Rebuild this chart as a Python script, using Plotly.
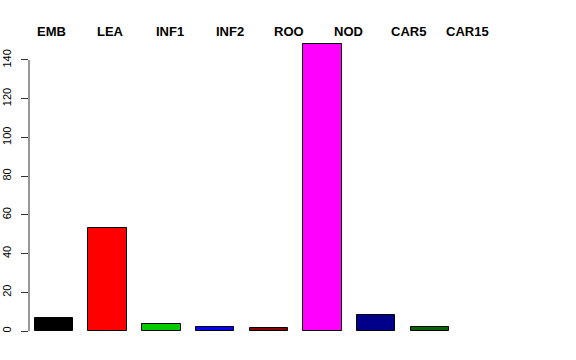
import plotly.graph_objects as go

categories = ["EMB", "LEA", "INF1", "INF2", "ROO", "NOD", "CAR5", "CAR15"]
values = [6.7, 53.2, 3.4, 2.0, 1.5, 148.2, 8.1, 1.9]
colors = ["#000000", "#FF0000", "#00CD00", "#0000FF", "#8B0000", "#FF00FF", "#00008B", "#006400"]
yticks = [0, 20, 40, 60, 80, 100, 120, 140]

pos = list(range(len(categories)))

fig = go.Figure()
fig.add_trace(go.Bar(
    x=pos, y=values, width=0.715,
    marker=dict(color=colors, line=dict(color="#000000", width=1)),
    showlegend=False, hoverinfo="skip",
))

# category labels along the top (spaced slightly wider than the bars)
label_step, label_off = 1.107, -0.044
for i, c in enumerate(categories):
    fig.add_annotation(
        x=label_off + i * label_step, xref="x", y=0.998, yref="paper",
        text="<b>%s</b>" % c, showarrow=False, xanchor="center", yanchor="middle",
        font=dict(family="Liberation Sans, Arial, sans-serif", size=13, color="black"),
    )

# y axis line spanning only 0..140 as in R
fig.add_shape(type="line", xref="paper", yref="y", x0=0, x1=0, y0=yticks[0], y1=yticks[-1],
              line=dict(color="#333333", width=1))

fig.update_layout(
    width=576, height=360,
    margin=dict(l=29, r=16, t=31, b=17, autoexpand=False),
    paper_bgcolor="white", plot_bgcolor="white",
    bargap=0,
    xaxis=dict(range=[-0.463, 9.42], showgrid=False, zeroline=False, showline=False,
               showticklabels=False, ticks="", automargin=False),
    yaxis=dict(range=[-6.2, 154.96], showgrid=False, zeroline=False, showline=False,
               automargin=False,
               tickmode="array", tickvals=yticks, ticktext=[str(t) for t in yticks],
               ticks="outside", ticklen=7, tickcolor="#333333", tickwidth=1,
               tickangle=-90, ticklabelstandoff=6,
               tickfont=dict(family="Liberation Sans, Arial, sans-serif", size=11, color="black")),
)

fig.write_html("out.html")
